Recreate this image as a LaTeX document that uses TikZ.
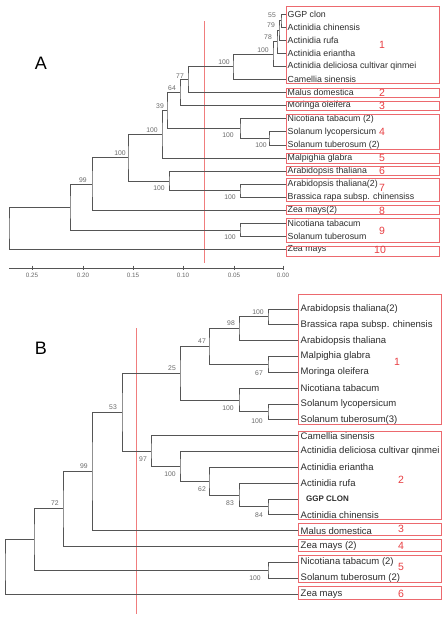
\documentclass[tikz,border=0pt]{standalone}
\usepackage{fontspec}
\setmainfont{Liberation Sans}
\definecolor{treegray}{RGB}{85,85,85}
\definecolor{labgray}{RGB}{105,105,105}
\definecolor{textgray}{RGB}{45,45,45}
\definecolor{boxred}{RGB}{236,105,110}
\definecolor{numred}{RGB}{232,62,66}
\definecolor{linered}{RGB}{240,125,125}
\tikzset{
  br/.style={draw=treegray, line width=0.9pt},
  leafA/.style={anchor=west, inner sep=1.5pt, text=textgray, font=\fontsize{8.8}{9}\selectfont},
  leafB/.style={anchor=west, inner sep=1.5pt, text=textgray, font=\fontsize{9.5}{10}\selectfont},
  boot/.style={inner sep=0pt, text=labgray, font=\fontsize{6.8}{7}\selectfont},
  grp/.style={draw=boxred, line width=0.8pt},
  gnum/.style={inner sep=0pt, text=numred, font=\fontsize{10.5}{11}\selectfont},
  cut/.style={draw=linered, line width=0.7pt},
  tick/.style={inner sep=0pt, text=labgray, font=\fontsize{6.3}{7}\selectfont},
  panel/.style={inner sep=0pt, text=black, font=\fontsize{18}{18}\selectfont}
}
\begin{document}
\begin{tikzpicture}[x=1pt,y=-1pt]
\useasboundingbox (0,0) rectangle (447,619);
\fill[white] (0,0) rectangle (447,619);

%================ Panel A =================
\node[panel] (LA) at (41,63) {A};
\draw[cut] (204,21) -- (204,263);

% leaves
\node[leafA] (A0)  at (286,14.0)  {GGP clon};
\node[leafA] (A1)  at (286,27.1)  {Actinidia chinensis};
\node[leafA] (A2)  at (286,40.2)  {Actinidia rufa};
\node[leafA] (A3)  at (286,53.3)  {Actinidia eriantha};
\node[leafA] (A4)  at (286,66.4)  {Actinidia deliciosa cultivar qinmei};
\node[leafA] (A5)  at (286,79.5)  {Camellia sinensis};
\node[leafA] (A6)  at (286,92.6)  {Malus domestica};
\node[leafA] (A7)  at (286,105.7) {Moringa oleifera};
\node[leafA] (A8)  at (286,118.8) {Nicotiana tabacum (2)};
\node[leafA] (A9)  at (286,131.9) {Solanum lycopersicum};
\node[leafA] (A10) at (286,145.0) {Solanum tuberosum (2)};
\node[leafA] (A11) at (286,158.1) {Malpighia glabra};
\node[leafA] (A12) at (286,171.2) {Arabidopsis thaliana};
\node[leafA] (A13) at (286,184.3) {Arabidopsis thaliana(2)};
\node[leafA] (A14) at (286,197.4) {Brassica rapa subsp. chinensiss};
\node[leafA] (A15) at (286,210.5) {Zea mays(2)};
\node[leafA] (A16) at (286,223.6) {Nicotiana tabacum};
\node[leafA] (A17) at (286,236.7) {Solanum tuberosum};
\node[leafA] (A18) at (286,249.8) {Zea mays};

% internal nodes
\coordinate (a55)   at (281,20.55);
\coordinate (a79)   at (279,30.4);
\coordinate (a78)   at (277,41.8);
\coordinate (a100a) at (273,54.1);
\coordinate (a100b) at (233,66.8);
\coordinate (a77)   at (188,79.7);
\coordinate (a64)   at (180,92.7);
\coordinate (a100c) at (269,138.45);
\coordinate (a100d) at (240,128.6);
\coordinate (a39)   at (167,110.7);
\coordinate (a100e) at (162,134.4);
\coordinate (a100f) at (240,190.85);
\coordinate (a100g) at (169,181.0);
\coordinate (a100h) at (128,157.7);
\coordinate (a99)   at (92,184.1);
\coordinate (a100i) at (240,230.15);
\coordinate (a70)   at (70,207.1);
\coordinate (aroot) at (9,228.5);

\draw[br] (A0.west) -| (a55) |- (A1.west);
\draw[br] (a55) -| (a79) |- (A2.west);
\draw[br] (a79) -| (a78) |- (A3.west);
\draw[br] (a78) -| (a100a) |- (A4.west);
\draw[br] (a100a) -| (a100b) |- (A5.west);
\draw[br] (a100b) -| (a77) |- (A6.west);
\draw[br] (a77) -| (a64) |- (A7.west);
\draw[br] (A9.west) -| (a100c) |- (A10.west);
\draw[br] (A8.west) -| (a100d) |- (a100c);
\draw[br] (a64) -| (a39) |- (a100d);
\draw[br] (a39) -| (a100e) |- (A11.west);
\draw[br] (A13.west) -| (a100f) |- (A14.west);
\draw[br] (A12.west) -| (a100g) |- (a100f);
\draw[br] (a100e) -| (a100h) |- (a100g);
\draw[br] (a100h) -| (a99) |- (A15.west);
\draw[br] (A16.west) -| (a100i) |- (A17.west);
\draw[br] (a99) -| (a70) |- (a100i);
\draw[br] (a70) -| (aroot) |- (A18.west);

% bootstrap values
\node[boot] at (272,15)  {55};
\node[boot] at (271,25)  {79};
\node[boot] at (268,37)  {78};
\node[boot] at (263,50)  {100};
\node[boot] at (224,62)  {100};
\node[boot] at (180,76)  {77};
\node[boot] at (172,88)  {64};
\node[boot] at (160,106) {39};
\node[boot] at (152,130) {100};
\node[boot] at (228,135) {100};
\node[boot] at (261,145) {100};
\node[boot] at (120,153) {100};
\node[boot] at (83,180)  {99};
\node[boot] at (159,188) {100};
\node[boot] at (230,197) {100};
\node[boot] at (230,237) {100};

% scale axis
\draw[br, line width=0.7pt] (9,268) -- (283,268);
\foreach \x/\t in {32/0.25,83/0.20,133/0.15,183/0.10,234/0.05,283/0.00}{
  \draw[br, line width=0.7pt] (\x,265.5) -- (\x,270);
  \node[tick] at (\x,275.5) {\t};
}

% groups A
\draw[grp] (286,6)   rectangle (439,83);
\draw[grp] (286,88)  rectangle (439,97.5);
\draw[grp] (286,101) rectangle (439,110.5);
\draw[grp] (286,114) rectangle (439,149);
\draw[grp] (286,153) rectangle (439,163);
\draw[grp] (286,166) rectangle (439,175.5);
\draw[grp] (286,178.5) rectangle (439,201);
\draw[grp] (286,205) rectangle (439,214.5);
\draw[grp] (286,218) rectangle (439,242);
\draw[grp] (286,246) rectangle (439,256);
\node[gnum] at (382,45)  {1};
\node[gnum] at (382,93)  {2};
\node[gnum] at (382,106) {3};
\node[gnum] at (382,132) {4};
\node[gnum] at (382,158) {5};
\node[gnum] at (382,171) {6};
\node[gnum] at (382,188) {7};
\node[gnum] at (382,211) {8};
\node[gnum] at (382,231) {9};
\node[gnum] at (380,250) {10};

%================ Panel B =================
\node[panel] (LB) at (41,348) {B};
\draw[cut] (136,328) -- (136,614);

\node[leafB] (B0)  at (299,309.0) {Arabidopsis thaliana(2)};
\node[leafB] (B1)  at (299,324.8) {Brassica rapa subsp. chinensis};
\node[leafB] (B2)  at (299,340.7) {Arabidopsis thaliana};
\node[leafB] (B3)  at (299,356.5) {Malpighia glabra};
\node[leafB] (B4)  at (299,372.3) {Moringa oleifera};
\node[leafB] (B5)  at (299,388.2) {Nicotiana tabacum};
\node[leafB] (B6)  at (299,404.0) {Solanum lycopersicum};
\node[leafB] (B7)  at (299,419.8) {Solanum tuberosum(3)};
\node[leafB] (B8)  at (299,435.6) {Camellia sinensis};
\node[leafB] (B9)  at (299,451.5) {Actinidia deliciosa cultivar qinmei};
\node[leafB] (B10) at (299,467.3) {Actinidia eriantha};
\node[leafB] (B11) at (299,483.1) {Actinidia rufa};
\node[leafB, font=\fontsize{8}{9}\selectfont\bfseries] (B12) at (299,499.0) {\hspace*{5.5pt}GGP CLON};
\node[leafB] (B13) at (299,514.8) {Actinidia chinensis};
\node[leafB] (B14) at (299,530.6) {Malus domestica};
\node[leafB] (B15) at (299,546.4) {Zea mays (2)};
\node[leafB] (B16) at (299,562.3) {Nicotiana tabacum (2)};
\node[leafB] (B17) at (299,578.1) {Solanum tuberosum (2)};
\node[leafB] (B18) at (299,594.0) {Zea mays};

\coordinate (b100a) at (268,316.9);
\coordinate (b98)   at (239,328.8);
\coordinate (b67)   at (268,364.4);
\coordinate (b47)   at (209,346.6);
\coordinate (b100b) at (268,411.9);
\coordinate (b100c) at (239,400.0);
\coordinate (b25)   at (180,373.3);
\coordinate (b84)   at (268,506.9);
\coordinate (b83)   at (239,495.0);
\coordinate (b62)   at (209,481.2);
\coordinate (b100d) at (180,466.3);
\coordinate (b97)   at (151,451.0);
\coordinate (b53)   at (122,412.1);
\coordinate (b99)   at (92,471.4);
\coordinate (b72)   at (63,508.9);
\coordinate (b100e) at (268,570.2);
\coordinate (b34)   at (34,539.6);
\coordinate (broot) at (5,566.8);

\draw[br] (B0.west) -| (b100a) |- (B1.west);
\draw[br] (b100a) -| (b98) |- (B2.west);
\draw[br] (B3.west) -| (b67) |- (B4.west);
\draw[br] (b98) -| (b47) |- (b67);
\draw[br] (B6.west) -| (b100b) |- (B7.west);
\draw[br] (B5.west) -| (b100c) |- (b100b);
\draw[br] (b47) -| (b25) |- (b100c);
\draw[br] (B12.west) -| (b84) |- (B13.west);
\draw[br] (B11.west) -| (b83) |- (b84);
\draw[br] (B10.west) -| (b62) |- (b83);
\draw[br] (B9.west) -| (b100d) |- (b62);
\draw[br] (B8.west) -| (b97) |- (b100d);
\draw[br] (b25) -| (b53) |- (b97);
\draw[br] (b53) -| (b99) |- (B14.west);
\draw[br] (b99) -| (b72) |- (B15.west);
\draw[br] (B16.west) -| (b100e) |- (B17.west);
\draw[br] (b72) -| (b34) |- (b100e);
\draw[br] (b34) -| (broot) |- (B18.west);

\node[boot] at (258,312) {100};
\node[boot] at (231,323) {98};
\node[boot] at (259,373) {67};
\node[boot] at (202,341) {47};
\node[boot] at (257,421) {100};
\node[boot] at (228,408) {100};
\node[boot] at (172,368) {25};
\node[boot] at (113,407) {53};
\node[boot] at (143,459) {97};
\node[boot] at (170,474) {100};
\node[boot] at (202,489) {62};
\node[boot] at (230,503) {83};
\node[boot] at (259,515) {84};
\node[boot] at (84,466)  {99};
\node[boot] at (55,503)  {72};
\node[boot] at (255,578) {100};

\draw[grp] (298,294) rectangle (441,424);
\draw[grp] (298,431) rectangle (441,519);
\draw[grp] (298,523) rectangle (441,535.5);
\draw[grp] (298,539) rectangle (441,551);
\draw[grp] (298,555) rectangle (441,582);
\draw[grp] (298,586) rectangle (441,599);
\node[gnum] at (397,362) {1};
\node[gnum] at (401,480) {2};
\node[gnum] at (401,529) {3};
\node[gnum] at (401,546) {4};
\node[gnum] at (401,567) {5};
\node[gnum] at (401,594) {6};
\end{tikzpicture}
\end{document}
